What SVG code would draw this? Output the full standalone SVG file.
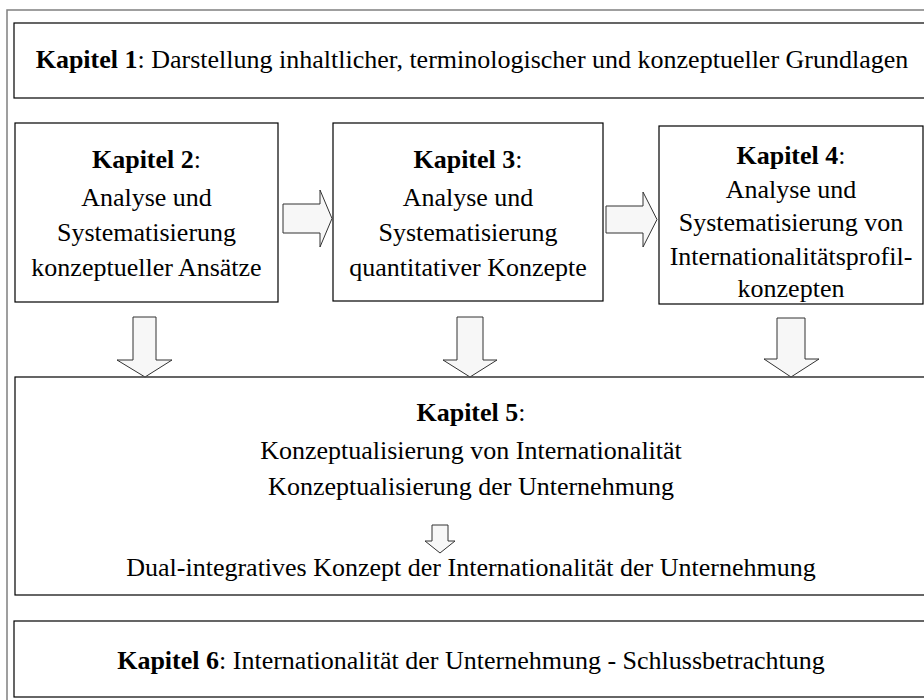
<svg xmlns="http://www.w3.org/2000/svg" width="924" height="700" viewBox="0 0 924 700">
  <style>
    .frame { fill: none; stroke: #808080; stroke-width: 1.5; }
    .box { fill: #ffffff; stroke: #000000; stroke-width: 1.2; }
    .arrow { fill: #f7f7f7; stroke: #333333; stroke-width: 1; stroke-linejoin: miter; }
    .t { font-family: "Liberation Serif", "Times New Roman", serif; font-size: 26px; fill: #000000; text-anchor: middle; }
    .b { font-weight: bold; }
  </style>
  <rect width="924" height="700" fill="#ffffff"/>
  <!-- outer frame (open to the right and bottom) -->
  <path class="frame" d="M7,700 V10 H924"/>

  <g id="kapitel1">
    <rect class="box" x="14" y="23" width="916" height="75"/>
    <text class="t" x="472" y="68"><tspan class="b">Kapitel 1</tspan>: Darstellung inhaltlicher, terminologischer und konzeptueller Grundlagen</text>
  </g>

  <g id="kapitel2">
    <rect class="box" x="15" y="123" width="263" height="179"/>
    <text class="t" x="146.5" y="168"><tspan class="b">Kapitel 2</tspan>:</text>
    <text class="t" x="146.5" y="206">Analyse und</text>
    <text class="t" x="146.5" y="241">Systematisierung</text>
    <text class="t" x="146.5" y="276">konzeptueller Ansätze</text>
  </g>

  <g id="kapitel3">
    <rect class="box" x="333" y="123" width="270" height="178"/>
    <text class="t" x="468" y="168"><tspan class="b">Kapitel 3</tspan>:</text>
    <text class="t" x="468" y="206">Analyse und</text>
    <text class="t" x="468" y="241">Systematisierung</text>
    <text class="t" x="468" y="276">quantitativer Konzepte</text>
  </g>

  <g id="kapitel4">
    <rect class="box" x="659" y="126" width="264" height="178"/>
    <text class="t" x="791" y="164"><tspan class="b">Kapitel 4</tspan>:</text>
    <text class="t" x="791" y="198">Analyse und</text>
    <text class="t" x="791" y="231">Systematisierung von</text>
    <text class="t" x="791" y="265">Internationalitätsprofil-</text>
    <text class="t" x="791" y="297">konzepten</text>
  </g>

  <g id="kapitel5">
    <rect class="box" x="15" y="377" width="915" height="218"/>
    <text class="t" x="471" y="421"><tspan class="b">Kapitel 5</tspan>:</text>
    <text class="t" x="471" y="459">Konzeptualisierung von Internationalität</text>
    <text class="t" x="471" y="495">Konzeptualisierung der Unternehmung</text>
    <text class="t" x="471" y="576">Dual-integratives Konzept der Internationalität der Unternehmung</text>
  </g>

  <g id="kapitel6">
    <rect class="box" x="14" y="621" width="916" height="76"/>
    <text class="t" x="471" y="669"><tspan class="b">Kapitel 6</tspan>: Internationalität der Unternehmung - Schlussbetrachtung</text>
  </g>

  <g id="connectors">
    <!-- block arrows between chapters 2, 3 and 4 -->
    <path class="arrow" d="M283,204 H320 V190 L332,218.5 L320,247 V233 H283 Z"/>
    <path class="arrow" d="M606,206 H643 V192 L657,219.5 L643,247 V233 H606 Z"/>
    <!-- block arrows down into chapter 5 -->
    <path class="arrow" d="M133,317 H156 V360 H172 L145,377 L117,360 H133 Z"/>
    <path class="arrow" d="M457,317 H483 V360 H497 L470,377 L443,360 H457 Z"/>
    <path class="arrow" d="M777,318 H805 V359 H819 L791,377 L764,359 H777 Z"/>
    <!-- small arrow inside chapter 5 -->
    <path class="arrow" d="M432,525 H448 V541 H455 L440,553 L425,541 H432 Z"/>
  </g>
</svg>
